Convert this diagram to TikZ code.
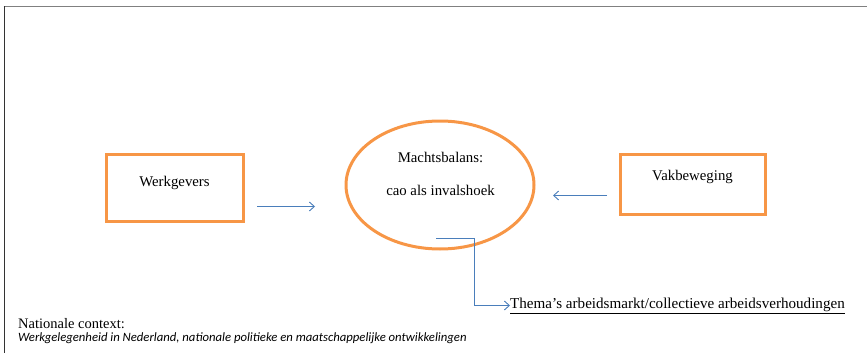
\documentclass[tikz,border=0pt]{standalone}
\usepackage{fontspec}
\setmainfont{Liberation Serif}
\newfontfamily\calfont{Carlito}
\usetikzlibrary{arrows.meta,shapes.geometric}
\definecolor{boxorange}{HTML}{F79646}
\definecolor{linkblue}{HTML}{4A7EBB}
\definecolor{framegray}{HTML}{808080}
\tikzset{
  actor/.style={draw=boxorange, line width=3pt, rectangle, inner sep=0pt,
    font=\fontsize{14.8}{17}\selectfont, text height=10pt},
  balance/.style={draw=boxorange, line width=3pt, ellipse, inner sep=0pt,
    minimum width=188pt, minimum height=128pt},
  flow/.style={draw=linkblue, line width=0.9pt,
    -{Straight Barb[length=5pt,width=9pt,line width=0.9pt]}},
  plain/.style={inner sep=0pt, font=\fontsize{14.8}{17}\selectfont},
}
\begin{document}
\begin{tikzpicture}[x=1pt,y=-1pt]
\useasboundingbox (0,0) rectangle (867,353);
% frame
\draw[framegray, line width=1.6pt] (3.5,6.5) -- (867,6.5);
\draw[black!80, line width=0.8pt] (4,6.5) -- (4,353);
% actors
\node[actor, minimum width=137pt, minimum height=67pt, text depth=13pt] (werk) at (174.5,187.5) {Werkgevers};
\node[actor, minimum width=145pt, minimum height=60pt, text depth=18pt] (vak) at (692.5,184) {Vakbeweging};
\node[balance] (bal) at (440,185) {};
\node[plain, anchor=base] (baltop) at (440.5,162) {Machtsbalans:};
\node[plain, anchor=base] (balbot) at (440.5,195) {cao als invalshoek};
% arrows
\coordinate (la1) at (257,206.5);
\coordinate (la2) at (315,206.5);
\coordinate (ra1) at (607,195.5);
\coordinate (ra2) at (553,195.5);
\draw[flow] (la1) -- (la2);
\draw[flow] (ra1) -- (ra2);
% theme
\node[plain, anchor=west, font=\fontsize{15.1}{17}\selectfont] (thema) at (510,305.5) {\underline{Thema’s arbeidsmarkt/collectieve arbeidsverhoudingen}};
\coordinate (elbowstart) at (436,238);
\coordinate (bend) at (474,238);
\draw[flow] (elbowstart) -- (bend) |- (thema.west);
% national context
\node[plain, anchor=base west, font=\fontsize{14.5}{16}\selectfont] (nat) at (18,328) {Nationale context:};
\node[plain, anchor=base west, font=\calfont\itshape\fontsize{12.7}{14}\selectfont] (natsub) at (18,341) {Werkgelegenheid in Nederland, nationale politieke en maatschappelijke ontwikkelingen};
\end{tikzpicture}
\end{document}
